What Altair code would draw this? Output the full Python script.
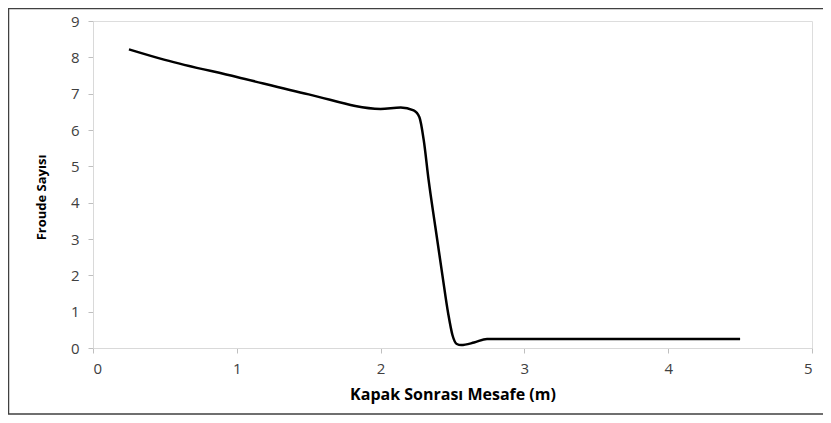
import altair as alt
import pandas as pd

# Data
distance = [0.25, 0.5, 1.0, 1.5, 2.0, 2.14, 2.23, 2.27, 2.30, 2.334, 2.38, 2.43,
            2.47, 2.50, 2.53, 2.56, 2.65, 2.74, 3.0, 3.5, 4.0, 4.5]
froude = [8.22, 7.93, 7.46, 6.98, 6.58, 6.62, 6.54, 6.35, 5.72, 4.62, 3.35, 2.00,
          0.95, 0.35, 0.11, 0.08, 0.15, 0.25, 0.25, 0.25, 0.25, 0.25]
x_ticks = [0, 1, 2, 3, 4, 5]
y_ticks = [0, 1, 2, 3, 4, 5, 6, 7, 8, 9]

df = pd.DataFrame({"x": distance, "y": froude})

W, H = 719, 327
FONT = "Open Sans"

line = alt.Chart(df).mark_line(
    color="black", strokeWidth=2.5, interpolate="monotone"
).encode(
    x=alt.X("x:Q", scale=alt.Scale(domain=[0, 5], nice=False, zero=False),
            axis=alt.Axis(values=x_ticks, title="Kapak Sonrası Mesafe (m)",
                          grid=False, domainColor="#d9d9d9", tickColor="#bfbfbf",
                          tickSize=5, labelPadding=8, labelFontSize=15,
                          labelColor="#404040", labelFont=FONT,
                          titleFont=FONT, titleFontSize=16, titleFontWeight="bold",
                          titleColor="#000000", titleY=46, titleBaseline="middle")),
    y=alt.Y("y:Q", scale=alt.Scale(domain=[0, 9], nice=False),
            axis=alt.Axis(values=y_ticks, title="Froude Sayısı",
                          grid=False, domainColor="#d9d9d9", tickColor="#bfbfbf",
                          tickSize=5, labelPadding=9, labelFontSize=15,
                          labelColor="#404040", labelFont=FONT,
                          titleFont=FONT, titleFontSize=13, titleFontWeight="bold",
                          titleColor="#000000", titleX=-52, titleY=176,
                          titleAngle=-90, titleBaseline="middle", titleAlign="center")),
)

border = alt.Chart(pd.DataFrame({"a": [0]})).mark_rect(
    fill=None, stroke="#404040", strokeWidth=1.5, clip=False
).encode(
    x=alt.value(-84.5), x2=alt.value(W + 200),
    y=alt.value(-12.5), y2=alt.value(H + 66)
)

chart = alt.layer(border, line).properties(
    width=W, height=H,
    autosize=alt.AutoSizeParams(type="none"),
    padding={"left": 85, "top": 13, "right": 11, "bottom": 67},
).configure_view(stroke=None).configure(background="white")

chart.save("out.html", embed_options={"renderer": "svg", "actions": False})
